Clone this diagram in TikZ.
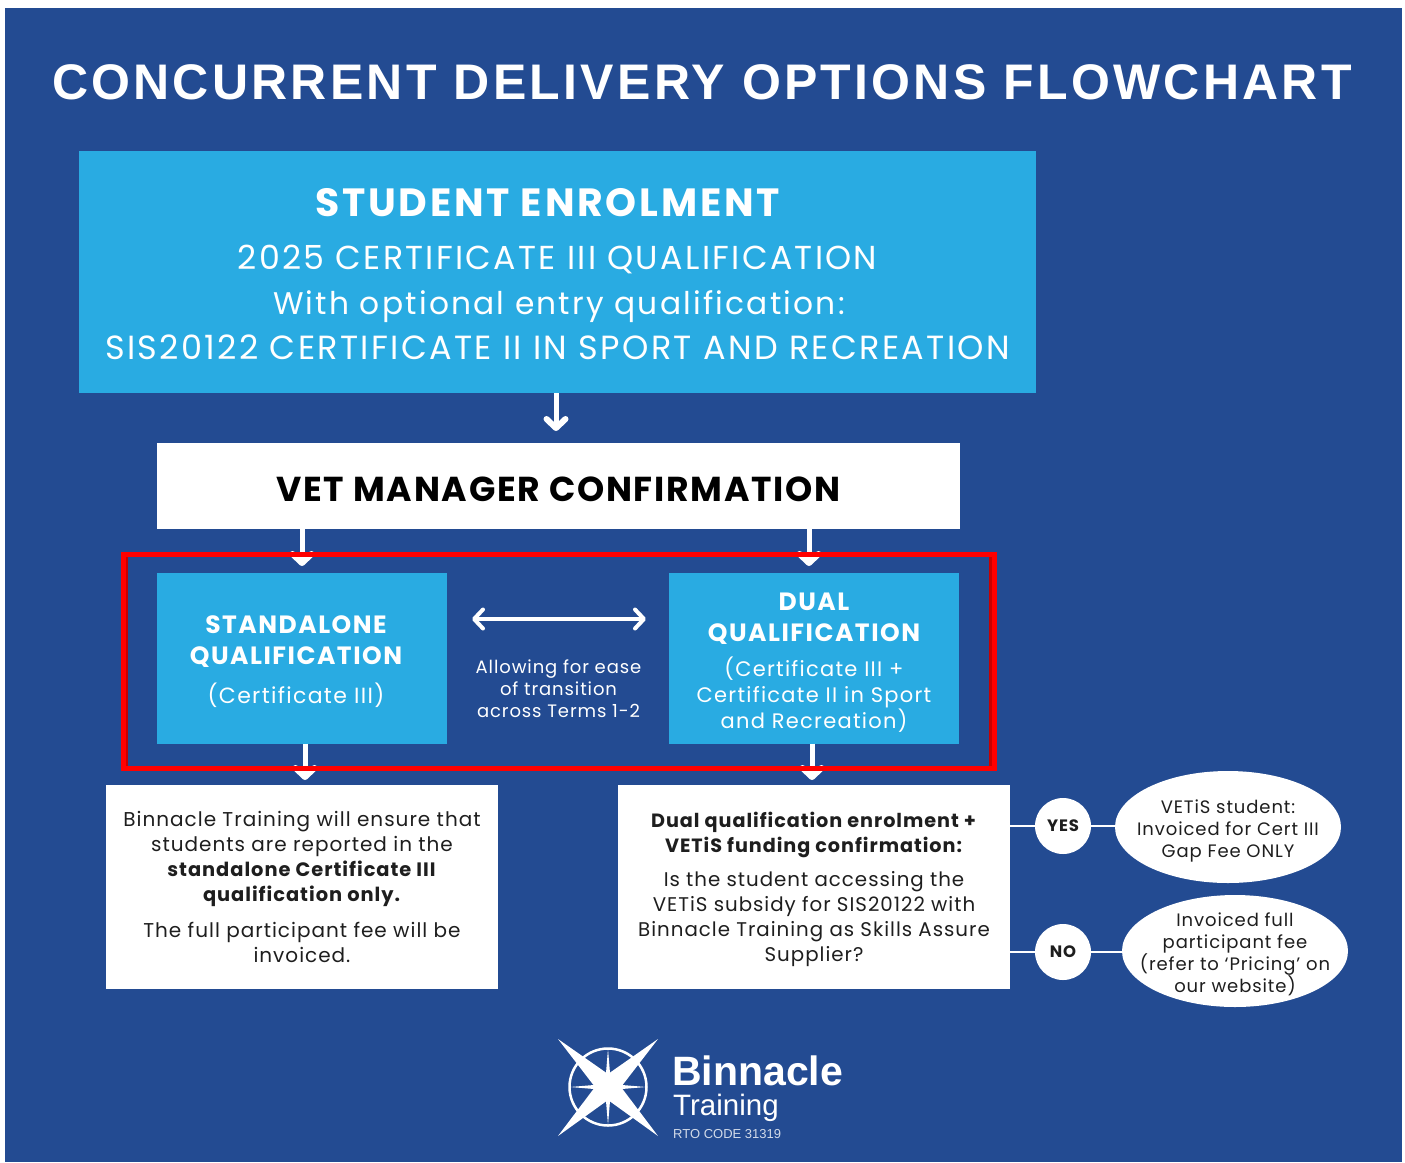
\documentclass[tikz,border=0pt]{standalone}
\usepackage{fontspec}
\usetikzlibrary{arrows.meta,shapes.geometric,calc}
\setmainfont{Poppins}
\newfontfamily\mont[LetterSpace=5]{Poppins}
\newfontfamily\montw[LetterSpace=6]{Poppins}
\newfontfamily\montx[LetterSpace=7]{Poppins}
\newfontfamily\ttl[LetterSpace=6.5]{Liberation Sans}
\newfontfamily\logofont{Liberation Sans}
\definecolor{navy}{RGB}{35,75,146}
\definecolor{sky}{RGB}{41,171,226}
\definecolor{ink}{RGB}{30,30,30}
\definecolor{darkred}{RGB}{200,0,0}
\newcommand{\fs}[2]{\fontsize{#1}{#2}\selectfont}
\newcommand{\pad}{\hspace*{12pt}}
\newcommand{\topstrut}[1]{\rule{0pt}{#1}}
\tikzset{
  skybox/.style={fill=sky,draw=none,inner sep=0pt,text=white,align=center},
  whitebox/.style={fill=white,draw=none,inner sep=0pt,text=ink,align=center},
  oval/.style={ellipse,fill=white,draw=none,inner xsep=-30pt,inner ysep=-20pt,text=ink,align=center,minimum width=226pt,minimum height=112pt},
  disc/.style={circle,fill=white,draw=none,inner sep=0pt,minimum size=56pt,text=ink},
  flow/.style={draw=white,line width=5pt,-{Straight Barb[length=9pt,width=19pt,line width=6pt,round]}},
  flowboth/.style={draw=white,line width=4pt,{Straight Barb[length=9pt,width=19pt,line width=4pt,round]}-{Straight Barb[length=9pt,width=19pt,line width=4pt,round]}},
  link/.style={draw=white,line width=2pt},
  redframe/.style={draw=red,line width=5pt},
}
\begin{document}
\begin{tikzpicture}[x=1pt,y=-1pt]
\useasboundingbox (0,0) rectangle (1405,1162);
\fill[navy] (5,8) rectangle (1402,1162);
\node[text=white,inner sep=0pt] (title) at (702,82) {\ttl\bfseries\fs{50}{56}CONCURRENT DELIVERY OPTIONS FLOWCHART};

\node[skybox,minimum width=957pt,minimum height=242pt,font=\montx\fontsize{33.5}{45}\selectfont] (enrol) at (557.5,272) {%
  \bfseries\fs{39.4}{44}\topstrut{33pt}\mbox{STUDENT ENROLMENT\hspace*{20pt}}\\[8pt]
  \fs{33.2}{45}2025 CERTIFICATE III QUALIFICATION\\
  \mbox{\hspace*{3pt}\fs{31.3}{45}With optional entry qualification:}\\
  SIS20122 CERTIFICATE II IN SPORT AND RECREATION};
\node[whitebox,minimum width=803pt,minimum height=86pt] (vet) at (558.5,486) {\mont\bfseries\fs{34.6}{40}\textcolor{black}{\topstrut{31pt}VET MANAGER CONFIRMATION}};

\node[skybox,minimum width=290pt,minimum height=171pt,font=\montw\fontsize{22}{31}\selectfont] (standalone) at (302,658) {%
  \bfseries\fs{25}{31}\topstrut{26pt}\mbox{STANDALONE\pad}\\\bfseries\fs{25}{31}\mbox{QUALIFICATION\pad}\\[8pt]
  \mbox{(Certificate III)\pad}};
\node[skybox,minimum width=290pt,minimum height=171pt,font=\montw\fontsize{21}{26}\selectfont] (dual) at (814,658) {%
  \bfseries\fs{25}{31}\topstrut{27pt}DUAL\\[5pt]\bfseries\fs{25}{31}QUALIFICATION\\[9.5pt]
  (Certificate III +\\Certificate II in Sport\\and Recreation)};
\node[text=white,align=center,inner sep=0pt,font=\mont\fontsize{18}{22}\selectfont] (ease) at (558.5,689) {Allowing for ease\\of transition\\across Terms 1-2};

\node[whitebox,minimum width=392pt,minimum height=204pt,font=\mont\fontsize{20}{25}\selectfont] (left) at (302,887) {%
  Binnacle Training will ensure that\\students are reported in the\\\textbf{\fs{19.4}{25}standalone Certificate III}\\\textbf{\fs{19.4}{25}qualification only.}\\[11pt]
  The full participant fee will be\\invoiced.};
\node[whitebox,minimum width=392pt,minimum height=204pt,font=\mont\fontsize{19.8}{25}\selectfont] (right) at (814,887) {%
  \textbf{\fs{19.2}{25}\topstrut{19.5pt}Dual qualification enrolment +}\\\textbf{\fs{19.2}{25}VETiS funding confirmation:}\\[9pt]
  Is the student accessing the\\VETiS subsidy for SIS20122 with\\Binnacle Training as Skills Assure\\Supplier?};

\node[disc] (yes) at (1063,826) {\mont\bfseries\fs{16.5}{18}YES};
\node[disc] (no) at (1063,952) {\mont\bfseries\fs{16.5}{18}NO};
\node[oval,font=\mont\fontsize{18}{22}\selectfont] (yesoval) at (1228,827) {\topstrut{22pt}VETiS student:\\Invoiced for Cert III\\Gap Fee ONLY};
\node[oval,font=\mont\fontsize{18}{22}\selectfont] (nooval) at (1235,951) {\topstrut{20pt}Invoiced full\\participant fee\\(refer to ‘Pricing’ on\\our website)};

\coordinate (e1) at (556,431);
\coordinate (a1) at (302,566);
\coordinate (a2) at (809,566);
\coordinate (a3) at (305,780);
\coordinate (a4) at (812,780);
\draw[flow] (enrol.south -| e1) -- (e1);
\draw[flow] (vet.south -| a1) -- (a1);
\draw[flow] (vet.south -| a2) -- (a2);
\draw[flow] (standalone.south -| a3) -- (a3);
\draw[flow] (dual.south -| a4) -- (a4);
\coordinate (b1) at (472,619);
\coordinate (b2) at (646,619);
\draw[flowboth] (b1) -- (b2);

\draw[link] (right.east |- yes) -- (yes.west);
\draw[link] (yes.east) -- (yesoval.west |- yes);
\draw[link] (right.east |- no) -- (no.west);
\draw[link] (no.east) -- (nooval.west |- no);

\draw[redframe] (123.2,554.5) rectangle (994.5,768.2);
\draw[redframe,line width=7.6pt] (124.5,552) -- (124.5,770.7);
\draw[redframe,line width=8pt] (993,552) -- (993,770.7);
\draw[redframe,draw=darkred,line width=2.5pt] (127,557) -- (127,766);
\draw[redframe,draw=darkred,line width=3pt] (990.5,557) -- (990.5,766);

% logo
\begin{scope}[shift={(608,1087)}]
  \draw[white,line width=2.5pt] (0,0) circle (38.5pt);
  \fill[white] (-50,-48) -- (0,-13) -- (50,-48) -- (13,0) -- (50,49) -- (0,13) -- (-50,49) -- (-13,0) -- cycle;
  \fill[white] (0,-38) -- (2.5,-8) -- (0,0) -- (-2.5,-8) -- cycle;
  \fill[white] (0,38) -- (2.5,8) -- (0,0) -- (-2.5,8) -- cycle;
  \fill[white] (-38,0) -- (-8,2.5) -- (0,0) -- (-8,-2.5) -- cycle;
  \fill[white] (38,0) -- (8,2.5) -- (0,0) -- (8,-2.5) -- cycle;
\end{scope}
\node[text=white,anchor=base west,inner sep=0pt] (brand) at (672,1085) {\logofont\bfseries\fs{41}{44}Binnacle};
\node[text=white,anchor=base west,inner sep=0pt] (training) at (673,1115) {\logofont\fs{29.5}{36}Training};
\node[text=white!80!navy,anchor=base west,inner sep=0pt] (code) at (673,1138) {\logofont\fs{13}{16}RTO CODE 31319};
\end{tikzpicture}
\end{document}
